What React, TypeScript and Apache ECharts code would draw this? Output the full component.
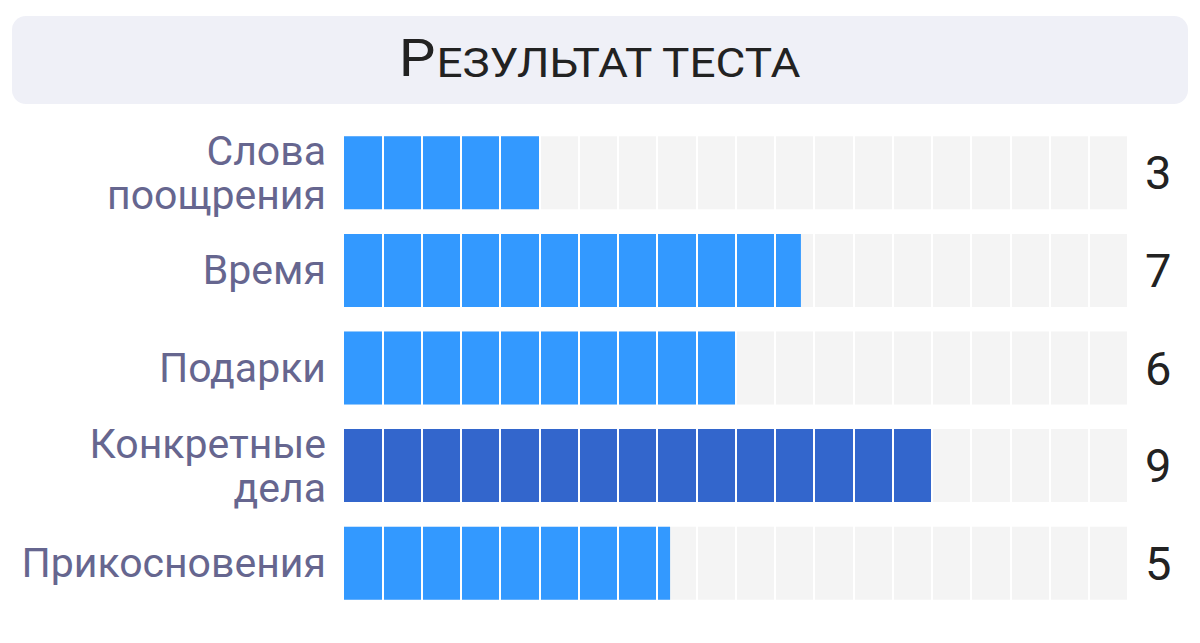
import React, { useEffect, useRef } from "react";
import * as echarts from "echarts";

const categories = ["Слова\nпоощрения", "Время", "Подарки", "Конкретные\nдела", "Прикосновения"];
const values = [3, 7, 6, 9, 5];
const scaleMax = 12;
const cellStep = 0.6;
const titleFirst = "Р";
const titleRest = "ЕЗУЛЬТАТ ТЕСТА";

const FONT = "Roboto";

export default function App() {
  const ref = useRef<HTMLDivElement>(null);
  useEffect(() => {
    if (!ref.current) return;
    const chart = echarts.init(ref.current, null, { renderer: "svg" });
    const maxVal = Math.max(...values);
    chart.setOption({
      animation: false,
      backgroundColor: "#ffffff",
      textStyle: { fontFamily: FONT },
      graphic: [
        {
          type: "rect",
          shape: { x: 12, y: 16, width: 1176, height: 88, r: 14 },
          style: { fill: "#eff0f7" },
          z: 0,
        },
        {
          type: "text",
          x: 600,
          y: 84,
          scaleX: 1.12,
          z: 1,
          style: {
            text: `{a|${titleFirst}}{b|${titleRest}}`,
            textAlign: "center",
            textVerticalAlign: "bottom",
            fill: "#222222",
            fontFamily: FONT,
            rich: {
              a: { fontSize: 52, lineHeight: 52, fontFamily: FONT, fill: "#222222", verticalAlign: "bottom" },
              b: { fontSize: 41, lineHeight: 41, fontFamily: FONT, fill: "#222222", verticalAlign: "bottom" },
            },
          },
        },
      ],
      grid: { left: 343, right: 72, top: 124, bottom: 31, containLabel: false },
      xAxis: {
        type: "value",
        min: 0,
        max: scaleMax,
        interval: cellStep,
        z: 5,
        axisLine: { show: false },
        axisTick: { show: false },
        axisLabel: { show: false },
        splitLine: { show: true, lineStyle: { color: "#ffffff", width: 2 } },
      },
      yAxis: [
        {
          type: "category",
          data: categories.map((c) =>
            c.includes("\n")
              ? { value: c, textStyle: { padding: [10, 0, 0, 0] } }
              : c
          ),
          inverse: true,
          axisLine: { show: false },
          axisTick: { show: false },
          axisLabel: {
            margin: 17,
            fontSize: 41,
            lineHeight: 44,
            color: "#66668f",
            fontFamily: FONT,
            align: "right",
          },
        },
        {
          type: "category",
          data: values.map(String),
          inverse: true,
          position: "right",
          axisLine: { show: false },
          axisTick: { show: false },
          axisLabel: {
            margin: 17,
            fontSize: 47,
            color: "#222222",
            fontFamily: FONT,
            align: "left",
          },
        },
      ],
      series: [
        {
          type: "bar",
          yAxisIndex: 0,
          barWidth: 73,
          showBackground: true,
          backgroundStyle: { color: "#f4f4f4" },
          data: values.map((v) => ({
            value: v * (scaleMax / 12),
            itemStyle: { color: v === maxVal ? "#3366cc" : "#3399ff" },
          })),
        },
      ],
    });
    return () => chart.dispose();
  }, []);
  return (
    <div
      ref={ref}
      style={{ position: "fixed", left: 0, top: 0, width: 1200, height: 643 }}
    />
  );
}
